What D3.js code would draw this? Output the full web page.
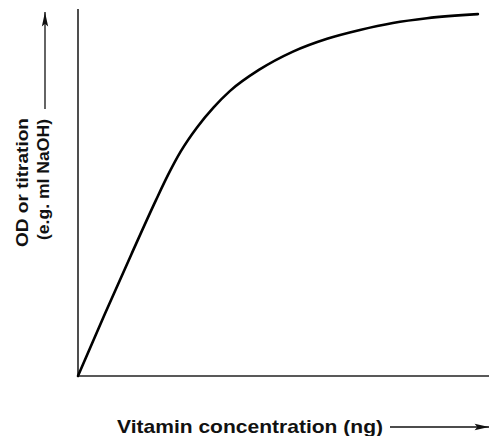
<!DOCTYPE html>
<html>
<head>
<meta charset="utf-8">
<script src="https://cdn.jsdelivr.net/npm/d3@7"></script>
<style>
  html, body { margin: 0; padding: 0; background: #fff; }
  svg { display: block; }
  text { font-family: "Liberation Sans", Arial, sans-serif; font-weight: bold; fill: #111; }
</style>
</head>
<body>
<svg id="chart" width="489" height="436"></svg>
<script>
// Standard curve for a microbiological vitamin assay (arbitrary units, 0–100)
const concentration = [0, 6.5, 13, 19, 22, 25, 29, 33, 37, 44, 52.3, 60.6, 68.6, 76.6, 84.9, 97.3];
const response      = [0, 16.8, 33.2, 48.0, 55.0, 61.2, 67.8, 73.2, 77.7, 83.4, 88.4, 91.9, 94.3, 96.2, 97.5, 98.6];
const xLabel = "Vitamin concentration (ng)";
const yLabelLines = ["OD or titration", "(e.g. ml NaOH)"];

const svg = d3.select("#chart");

const x = d3.scaleLinear().domain([0, 100]).range([78, 489]);
const y = d3.scaleLinear().domain([0, 100]).range([376, 9]);

// Axes: plain lines, no ticks
const axisColor = "#222";
svg.append("line")
  .attr("x1", x(0)).attr("x2", x(0))
  .attr("y1", y(0)).attr("y2", y(100))
  .attr("stroke", axisColor).attr("stroke-width", 1.6);
svg.append("line")
  .attr("x1", x(0)).attr("x2", x(100))
  .attr("y1", y(0)).attr("y2", y(0))
  .attr("stroke", axisColor).attr("stroke-width", 1.6);

// Response curve
const pts = concentration.map((c, i) => [c, response[i]]);
const line = d3.line()
  .x(d => x(d[0]))
  .y(d => y(d[1]))
  .curve(d3.curveMonotoneX);
svg.append("path")
  .datum(pts)
  .attr("d", line)
  .attr("fill", "none")
  .attr("stroke", "#000")
  .attr("stroke-width", 2.6)
  .attr("stroke-linejoin", "round")
  .attr("stroke-linecap", "round");

// Arrowhead marker
const defs = svg.append("defs");
defs.append("marker")
  .attr("id", "arrow")
  .attr("viewBox", "0 0 16 10")
  .attr("refX", 16).attr("refY", 5)
  .attr("markerWidth", 15).attr("markerHeight", 9)
  .attr("markerUnits", "userSpaceOnUse")
  .attr("orient", "auto")
  .append("path")
  .attr("d", "M0,1.5 L16,5 L0,8.5 L3,5 Z")
  .attr("fill", "#111");

// X-axis title with arrow
svg.append("text")
  .attr("x", 117).attr("y", 433)
  .attr("font-size", 19)
  .attr("textLength", 266)
  .attr("lengthAdjust", "spacingAndGlyphs")
  .text(xLabel);
svg.append("line")
  .attr("x1", 390).attr("x2", 489)
  .attr("y1", 427).attr("y2", 427)
  .attr("stroke", "#111").attr("stroke-width", 1.3)
  .attr("marker-end", "url(#arrow)");

// Y-axis title (two rotated lines) with arrow
const yl = svg.append("g");
yl.append("text")
  .attr("transform", "translate(28,247) rotate(-90)")
  .attr("font-size", 17)
  .attr("textLength", 129)
  .attr("lengthAdjust", "spacingAndGlyphs")
  .text(yLabelLines[0]);
yl.append("text")
  .attr("transform", "translate(49,240) rotate(-90)")
  .attr("font-size", 17)
  .attr("textLength", 121)
  .attr("lengthAdjust", "spacingAndGlyphs")
  .text(yLabelLines[1]);
svg.append("line")
  .attr("x1", 45).attr("x2", 45)
  .attr("y1", 109).attr("y2", 12)
  .attr("stroke", "#111").attr("stroke-width", 1.3)
  .attr("marker-end", "url(#arrow)");
</script>
</body>
</html>
